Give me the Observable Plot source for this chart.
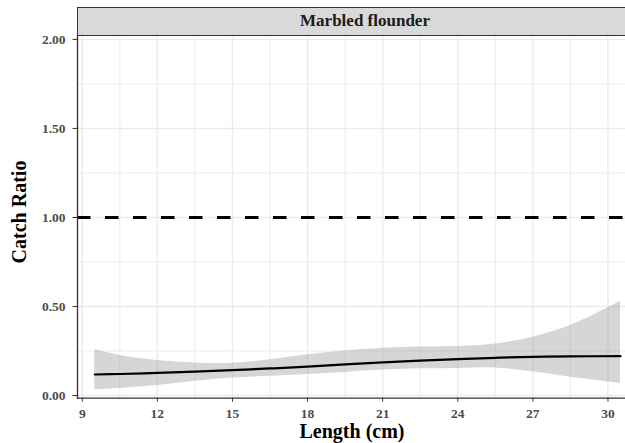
<!DOCTYPE html>
<html>
<head>
<meta charset="utf-8">
<script src="https://cdn.jsdelivr.net/npm/d3@7"></script>
<script src="https://cdn.jsdelivr.net/npm/@observablehq/plot@0.6"></script>
<style>
  html, body { margin: 0; padding: 0; background: #fff; }
  #wrap { position: relative; width: 625px; height: 443px; overflow: hidden; font-family: "Liberation Serif", "Times New Roman", serif; }
  #chart { position: absolute; left: 0; top: 0; }
  #strip { position: absolute; left: 77px; top: 6.5px; width: 560px; height: 29px; box-sizing: border-box;
           background: #d9d9d9; border: 1.3px solid #333; font-weight: bold; font-size: 17px; color: #1a1a1a; }
  #strip span { position: absolute; left: 287px; top: 50%; transform: translate(-50%, -52%); white-space: nowrap; line-height: 17px; }
  #ytitle { position: absolute; left: 18.5px; top: 212px; transform: translate(-50%, -50%) rotate(-90deg);
            font-weight: bold; font-size: 20px; line-height: 20px; color: #000; white-space: nowrap; }
  #xtitle { position: absolute; left: 352px; top: 431px; transform: translate(-50%, -50%);
            font-weight: bold; font-size: 20px; line-height: 20px; color: #000; white-space: nowrap; }
</style>
</head>
<body>
<div id="wrap">
  <div id="chart"></div>
  <div id="strip"><span id="stripText"></span></div>
  <div id="ytitle"></div>
  <div id="xtitle"></div>
</div>
<script>
// ---- data ----
const panelTitle = "Marbled flounder";
const xTitle = "Length (cm)";
const yTitle = "Catch Ratio";

const lengths = [9.5, 10.5, 12, 13.5, 15, 16.5, 18, 19.5, 21, 22.5, 24, 25.5, 27, 28.5, 30.5];
const fitRatio = [0.118, 0.121, 0.127, 0.134, 0.143, 0.152, 0.162, 0.175, 0.186, 0.196, 0.205, 0.212, 0.217, 0.220, 0.221];
const lowerCI  = [0.032, 0.040, 0.056, 0.080, 0.098, 0.108, 0.118, 0.130, 0.143, 0.150, 0.152, 0.155, 0.133, 0.103, 0.069];
const upperCI  = [0.258, 0.225, 0.197, 0.183, 0.181, 0.201, 0.229, 0.250, 0.266, 0.273, 0.276, 0.290, 0.328, 0.393, 0.530];

const referenceLine = [1];
const xTicks = [9, 12, 15, 18, 21, 24, 27, 30];
const xMinor = [10.5, 13.5, 16.5, 19.5, 22.5, 25.5, 28.5];
const yTicks = [0, 0.5, 1, 1.5, 2];
const yMinor = [0.25, 0.75, 1.25, 1.75];

const rows = lengths.map((x, i) => ({x, fit: fitRatio[i], lo: lowerCI[i], hi: upperCI[i]}));

document.getElementById("stripText").textContent = panelTitle;
document.getElementById("xtitle").textContent = xTitle;
document.getElementById("ytitle").textContent = yTitle;

const axisFont = {fontFamily: "Liberation Serif", fontWeight: "bold", fontSize: 13.5};

const plot = Plot.plot({
  width: 625,
  height: 443,
  marginLeft: 77,
  marginRight: 0,
  marginTop: 35,
  marginBottom: 45.3,
  style: {fontFamily: "Liberation Serif", fontSize: "13.5px", background: "transparent"},
  x: {domain: [8.81, 30.70]},
  y: {domain: [-0.015, 2.022]},
  marks: [
    Plot.ruleX(xMinor, {stroke: "#ebebeb", strokeWidth: 1}),
    Plot.ruleY(yMinor, {stroke: "#ebebeb", strokeWidth: 1}),
    Plot.ruleX(xTicks, {stroke: "#ebebeb", strokeWidth: 1.4}),
    Plot.ruleY(yTicks, {stroke: "#ebebeb", strokeWidth: 1.4}),
    Plot.areaY(rows, {x: "x", y1: "lo", y2: "hi", fill: "#999999", fillOpacity: 0.4, curve: "catmull-rom"}),
    Plot.line(rows, {x: "x", y: "fit", stroke: "#000", strokeWidth: 2.2, curve: "catmull-rom"}),
    Plot.ruleY(referenceLine, {stroke: "#000", strokeWidth: 3, strokeDasharray: "13.5,14.5"}),
    Plot.frame({anchor: "left", stroke: "#333", strokeWidth: 1.3}),
    Plot.frame({anchor: "bottom", stroke: "#333", strokeWidth: 1.3}),
    Plot.axisY(yTicks, {tickFormat: d3.format(".2f"), tickSize: 4.5, tickPadding: 7.5, label: null,
                        stroke: "#333", fill: "#4d4d4d", ...axisFont}),
    Plot.axisX(xTicks, {tickFormat: d => String(d), tickSize: 4, tickPadding: 6, label: null,
                        stroke: "#333", fill: "#4d4d4d", ...axisFont})
  ]
});
document.getElementById("chart").appendChild(plot);
</script>
</body>
</html>
